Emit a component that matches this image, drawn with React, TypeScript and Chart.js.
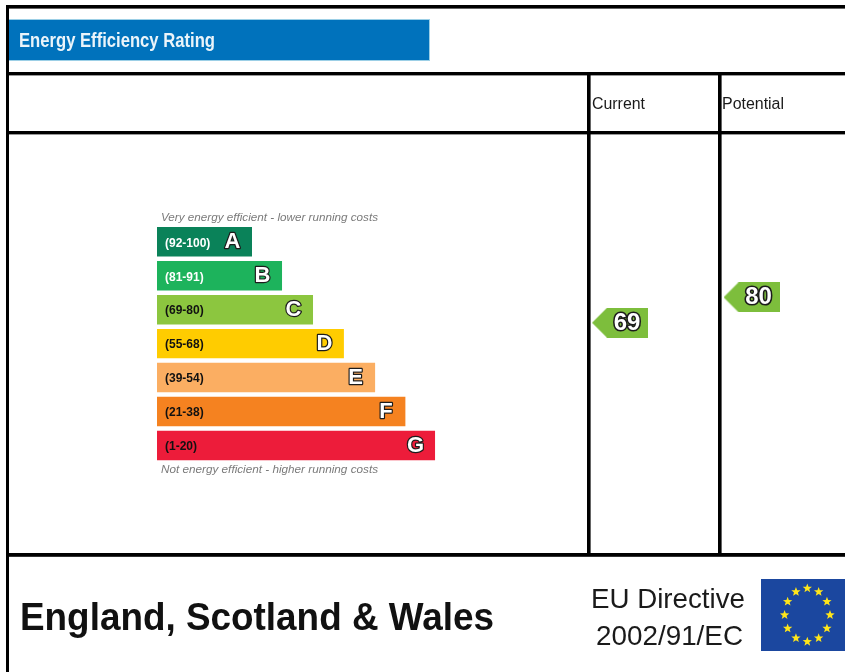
import React, { useEffect, useRef } from "react";
import { Chart, registerables } from "chart.js";

Chart.register(...registerables);

const bands = ["A", "B", "C", "D", "E", "F", "G"];
const ranges = ["(92-100)", "(81-91)", "(69-80)", "(55-68)", "(39-54)", "(21-38)", "(1-20)"];
const barLengths = [3.075, 4.047, 5.05, 6.05, 7.06, 8.04, 9.0];
const barColors = ["#0A8259", "#1DB35C", "#8CC63F", "#FFCC00", "#FBAE62", "#F58220", "#ED1C3A"];
const rangeColors = ["#FFFFFF", "#FFFFFF", "#111111", "#111111", "#111111", "#111111", "#111111"];
const columns = ["Current", "Potential"];
const columnIndex = [0, 1];
const ratings = [69, 80];

const FONT = '"Liberation Sans", Arial, sans-serif';
const SOFT = "blur(0.4px)";

function fitText(ctx: any, text: string, x: number, y: number, width: number, font: string, color: string) {
  ctx.save();
  ctx.filter = SOFT;
  ctx.font = font;
  ctx.fillStyle = color;
  ctx.textAlign = "left";
  ctx.textBaseline = "alphabetic";
  const w = ctx.measureText(text).width;
  ctx.translate(x, y);
  ctx.scale(width / w, 1);
  ctx.fillText(text, 0, 0);
  ctx.restore();
}

function outlined(ctx: any, text: string, x: number, y: number, font: string, lw: number) {
  ctx.save();
  ctx.filter = SOFT;
  ctx.font = font;
  ctx.textAlign = "center";
  ctx.textBaseline = "middle";
  ctx.lineJoin = "round";
  ctx.lineWidth = lw;
  ctx.strokeStyle = "#1c1c1c";
  ctx.fillStyle = "#FFFFFF";
  ctx.strokeText(text, x, y);
  ctx.fillText(text, x, y);
  ctx.restore();
}

function star(ctx: any, cx: number, cy: number, r: number) {
  ctx.beginPath();
  for (let i = 0; i < 10; i++) {
    const a = -Math.PI / 2 + (i * Math.PI) / 5;
    const rr = i % 2 === 0 ? r : r * 0.42;
    const px = cx + Math.cos(a) * rr;
    const py = cy + Math.sin(a) * rr;
    if (i === 0) ctx.moveTo(px, py);
    else ctx.lineTo(px, py);
  }
  ctx.closePath();
  ctx.fill();
}

function makeArrow() {
  const c = document.createElement("canvas");
  c.width = 56;
  c.height = 30;
  const g = c.getContext("2d") as CanvasRenderingContext2D;
  g.fillStyle = "#7DBE3C";
  g.beginPath();
  g.moveTo(0, 15);
  g.lineTo(15, 0);
  g.lineTo(56, 0);
  g.lineTo(56, 30);
  g.lineTo(15, 30);
  g.closePath();
  g.fill();
  return c;
}

const framePlugin = {
  id: "epcFrame",
  beforeDatasetsDraw(chart: any) {
    const ctx = chart.ctx;
    ctx.save();
    ctx.fillStyle = "#FFFFFF";
    ctx.fillRect(0, 0, 845, 672);
    ctx.fillStyle = "#000000";
    ctx.fillRect(6, 5, 839, 3.6);
    ctx.fillRect(6, 72, 839, 3.4);
    ctx.fillRect(6, 131, 839, 3.4);
    ctx.fillRect(6, 553, 839, 3.8);
    ctx.fillRect(6, 5, 3, 667);
    ctx.fillRect(587, 72, 3.6, 484);
    ctx.fillRect(718, 72, 3.6, 484);

    ctx.fillStyle = "#9CCFE6";
    ctx.fillRect(9, 19, 421, 42);
    ctx.fillStyle = "#0072BC";
    ctx.fillRect(9, 20, 420, 40);
    fitText(ctx, "Energy Efficiency Rating", 19, 47, 196, `bold 20px ${FONT}`, "#EAF4FA");

    fitText(ctx, columns[0], 592, 109, 53, `16px ${FONT}`, "#1a1a1a");
    fitText(ctx, columns[1], 722, 109, 62, `16px ${FONT}`, "#1a1a1a");

    fitText(ctx, "Very energy efficient - lower running costs", 161, 221, 217, `italic 11px ${FONT}`, "#7a7a7a");
    fitText(ctx, "Not energy efficient - higher running costs", 161, 473, 217, `italic 11px ${FONT}`, "#7a7a7a");

    fitText(ctx, "England, Scotland & Wales", 20, 630, 474, `bold 39px ${FONT}`, "#111111");
    fitText(ctx, "EU Directive", 591, 608, 154, `28px ${FONT}`, "#1a1a1a");
    fitText(ctx, "2002/91/EC", 596, 645, 147, `28px ${FONT}`, "#1a1a1a");

    ctx.fillStyle = "#1B479F";
    ctx.fillRect(761, 579, 84, 72);
    ctx.fillStyle = "#FFE61A";
    for (let i = 0; i < 12; i++) {
      const a = (i * Math.PI) / 6;
      star(ctx, 807.3 + Math.sin(a) * 22.7, 615 - Math.cos(a) * 26.7, 4.9);
    }
    ctx.restore();
  },
  afterDatasetsDraw(chart: any) {
    const ctx = chart.ctx;
    const bars = chart.getDatasetMeta(0).data;
    bars.forEach((bar: any, i: number) => {
      ctx.save();
      ctx.filter = SOFT;
      ctx.font = `bold 12px ${FONT}`;
      ctx.fillStyle = rangeColors[i];
      ctx.textAlign = "left";
      ctx.textBaseline = "middle";
      ctx.fillText(ranges[i], 165, bar.y + 1.5);
      ctx.restore();
      outlined(ctx, bands[i], bar.x - 19.5, bar.y + 0.5, `bold 22px ${FONT}`, 2.4);
    });
    const points = chart.getDatasetMeta(1).data;
    points.forEach((p: any, i: number) => {
      outlined(ctx, String(ratings[i]), p.x + 7, p.y + 0.5, `bold 24px ${FONT}`, 3.2);
    });
  },
};

export default function App() {
  const ref = useRef<HTMLCanvasElement | null>(null);
  useEffect(() => {
    const arrow = makeArrow();
    const chart = new Chart(ref.current as any, {
      type: "bar",
      data: {
        labels: bands,
        datasets: [
          {
            type: "bar",
            indexAxis: "y",
            data: barLengths,
            backgroundColor: barColors,
            borderWidth: 0,
            categoryPercentage: 1,
            barPercentage: 0.868,
            grouped: false,
            xAxisID: "x",
            yAxisID: "y",
          },
          {
            type: "scatter",
            data: ratings.map((r, i) => ({ x: columnIndex[i], y: r })),
            xAxisID: "xm",
            yAxisID: "ym",
            showLine: false,
            pointStyle: arrow,
            pointRadius: 14,
            clip: false,
          },
        ],
      } as any,
      options: {
        responsive: false,
        animation: false,
        events: [],
        layout: { autoPadding: false, padding: { left: 157, right: 0, top: 224.75, bottom: 209.5 } },
        plugins: { legend: { display: false }, title: { display: false }, tooltip: { enabled: false } },
        scales: {
          x: { type: "linear", axis: "x", display: false, offset: false, min: 0, max: 22.27 },
          y: { type: "category", axis: "y", display: false, offset: true },
          xm: { type: "linear", axis: "x", display: false, offset: false, min: -3.521, max: 1.711 },
          ym: { type: "linear", axis: "y", display: false, offset: false, min: 8.5, max: 111.4 },
        },
      } as any,
      plugins: [framePlugin],
    });
    return () => chart.destroy();
  }, []);
  return (
    <canvas
      ref={ref}
      width={845}
      height={672}
      style={{ position: "absolute", left: 0, top: 0, display: "block", width: 845, height: 672 }}
    />
  );
}
